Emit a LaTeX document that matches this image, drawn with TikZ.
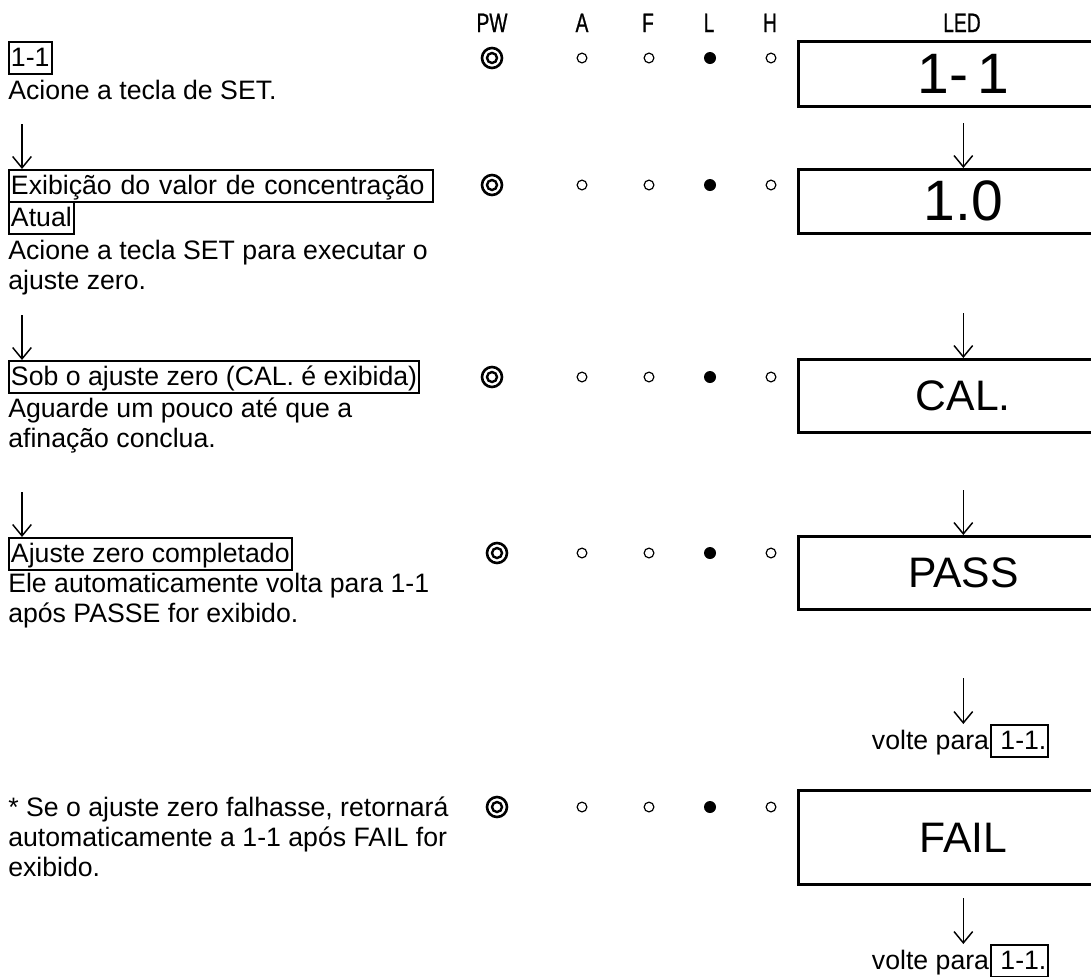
\documentclass[tikz,border=0pt]{standalone}
\usepackage{fontspec}
\setmainfont{Liberation Sans}
\newfontfamily\headfont[FakeBold=1]{Liberation Sans}
\usetikzlibrary{arrows.meta,calc}

\tikzset{
  body/.style={font=\fontsize{20}{22.5}\selectfont, inner sep=0pt, align=left, anchor=base west},
  frame/.style={draw, line width=1.5pt, font=\fontsize{20}{22.5}\selectfont,
    inner xsep=1.5pt, inner ysep=0pt, text height=18pt, text depth=6pt, anchor=north west},
  head/.style={font=\headfont\fontsize{20}{24}\selectfont, inner sep=0pt, anchor=base},
  led/.style={draw, line width=2pt, anchor=north west, minimum width=247.5pt, inner sep=0pt},
  ledbig/.style={led, font=\fontsize{42.75}{50}\selectfont},
  ledmid/.style={led, font=\fontsize{32}{38}\selectfont},
  pwlamp/.style={circle, draw, line width=1.95pt, minimum size=15pt, inner sep=0pt,
    path picture={\draw[line width=1.8pt] (path picture bounding box.center) circle (3.75pt);}},
  offlamp/.style={circle, draw, line width=0.9pt, minimum size=7.3pt, inner sep=0pt},
  onlamp/.style={circle, fill, minimum size=9pt, inner sep=0pt},
  flow/.style={line width=1.1pt, -{Straight Barb[length=8.5pt, width=14pt, line width=1.1pt]}},
}

% one row of indicator lamps: PW, A, F, L, H
\newcommand\lamprow[3]{%
  \node[pwlamp]  (#1pw) at (#3,#2) {};
  \node[offlamp] (#1a)  at (582,#2) {};
  \node[offlamp] (#1f)  at (649,#2) {};
  \node[onlamp]  (#1l)  at (710,#2) {};
  \node[offlamp] (#1h)  at (771,#2) {};
}

\begin{document}
\begin{tikzpicture}[x=0.75pt,y=-0.75pt]
\path[use as bounding box] (0,0) rectangle (1091,976);
\clip (0,0) rectangle (1091,976);

% column headings
\node[head] (hpw)  at (492,32) {\scalebox{0.72}[1]{PW}};
\node[head] (ha)   at (582,32) {\scalebox{0.72}[1]{A}};
\node[head] (hf)   at (648,32) {\scalebox{0.72}[1]{F}};
\node[head] (hl)   at (709,32) {\scalebox{0.72}[1]{L}};
\node[head] (hh)   at (770,32) {\scalebox{0.72}[1]{H}};
\node[head] (hled) at (962,32) {\scalebox{0.72}[1]{LED}};

% step 1
\node[frame] (s1) at (8,41) {1-1};
\node[body] (s1t) at (8,99) {Acione a tecla de SET.};
\lamprow{r1}{58}{492}
\node[ledbig, minimum height=48.75pt] (b1) at (797,40) {1-\,1};

% step 2 (multi-line texts are placed by the baseline of their last line)
\node[frame, text width=315pt] (s2) at (8,169) {Exibição do valor de concentração};
\node[frame] (s2b) at (8,201) {Atual};
\node[body] (s2t) at (8,289) {Acione a tecla SET para executar o\\ajuste zero.};
\lamprow{r2}{185}{492}
\node[ledbig, minimum height=48pt] (b2) at (797,168) {1.0};

% step 3
\node[frame] (s3) at (8,360) {Sob o ajuste zero (CAL. é exibida)};
\node[body] (s3t) at (8,447) {Aguarde um pouco até que a\\afinação conclua.};
\lamprow{r3}{377}{492}
\node[ledmid, minimum height=54.75pt] (b3) at (797,358) {CAL.};

% step 4
\node[frame] (s4) at (8,537) {Ajuste zero completado};
\node[body] (s4t) at (8,622) {Ele automaticamente volta para 1-1\\após PASSE for exibido.};
\lamprow{r4}{553}{497}
\node[ledmid, minimum height=54.75pt] (b4) at (797,535) {PASS};
\node[frame] (v1box) at (990,724) {\ 1-1.};
\node[body, anchor=base east] (v1) at ([xshift=-0.5pt]v1box.base west) {volte para};

% failure case
\node[body] (s5t) at (8,876) {* Se o ajuste zero falhasse, retornará\\automaticamente a 1-1 após FAIL for\\exibido.};
\lamprow{r5}{807}{497}
\node[ledmid, minimum height=70.5pt] (b5) at (797,789) {FAIL};
\node[frame] (v2box) at (990,944) {\ 1-1.};
\node[body, anchor=base east] (v2) at ([xshift=-0.5pt]v2box.base west) {volte para};

% arrows in the left column
\draw[flow] ($(s2.north west)+(14,-45)$) -- ($(s2.north west)+(14,0)$);
\draw[flow] ($(s3.north west)+(14,-45)$) -- ($(s3.north west)+(14,0)$);
\draw[flow] ($(s4.north west)+(14,-45)$) -- ($(s4.north west)+(14,0)$);

% arrows in the LED column
\draw[flow] ($(b2.north)+(0,-45)$) -- (b2.north);
\draw[flow] ($(b3.north)+(0,-45)$) -- (b3.north);
\draw[flow] ($(b4.north)+(0,-45)$) -- (b4.north);
\draw[flow] ($(b4.south |- v1box.north)+(0,-46)$) -- (b4.south |- v1box.north);
\draw[flow] ($(b5.south |- v2box.north)+(0,-46)$) -- (b5.south |- v2box.north);
\end{tikzpicture}
\end{document}
